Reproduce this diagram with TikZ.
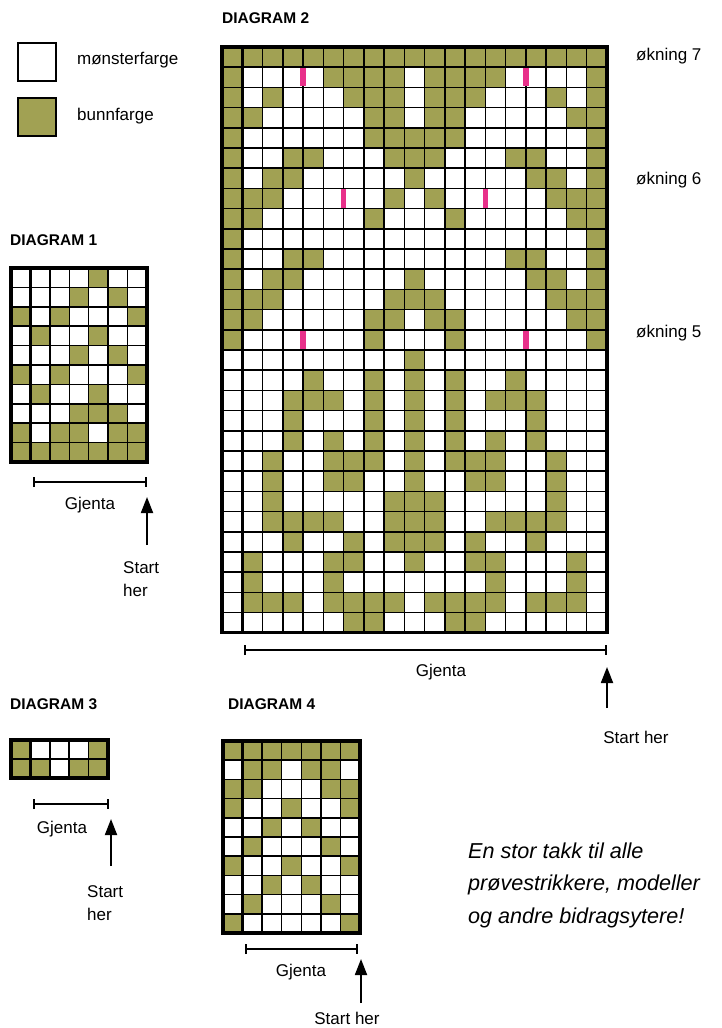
\documentclass[tikz,border=0pt]{standalone}
\usepackage{fontspec}
\setmainfont{Liberation Sans}
\usetikzlibrary{arrows.meta}
\definecolor{knitgreen}{RGB}{161,161,83}
\definecolor{knitpink}{RGB}{232,48,138}
\colorlet{knit0}{white}
\colorlet{knit1}{knitgreen}
\tikzset{
 gridline/.style={line width=1.5pt, draw=black},
 gridframe/.style={line width=3.2pt, draw=black, line join=miter},
 charttitle/.style={font=\fontsize{15.5}{18}\selectfont\bfseries, anchor=west, inner sep=0pt},
 lbl/.style={font=\fontsize{17}{23}\selectfont, inner sep=0pt},
 thanks/.style={font=\fontsize{21.6}{32.5}\selectfont\itshape, inner sep=0pt, align=left, anchor=west},
 repeatbar/.style={line width=1.8pt, {Bar[width=10pt]}-{Bar[width=10pt]}},
 startarrow/.style={line width=1.8pt, -{Triangle[length=16pt,width=12pt]}},
 pinkbar/.style={fill=knitpink},
 legendbox/.style={line width=2.5pt, draw=black, minimum size=38pt, inner sep=0pt},
}
% x0, y0, cell width, cell height, ncols, nrows, rows
\newcommand\knitgrid[7]{%
  \foreach \rowdata [count=\rr from 0] in {#7} {%
    \foreach \v [count=\cc from 0] in \rowdata {%
      \fill[fill=knit\v] ({#1+\cc*#3},{#2+\rr*#4}) rectangle ++(#3,#4);
    }%
  }%
  \foreach \i in {0,...,#5} {\draw[gridline] ({#1+\i*#3},#2) -- ({#1+\i*#3},{#2+#6*#4});}%
  \foreach \j in {0,...,#6} {\draw[gridline] (#1,{#2+\j*#4}) -- ({#1+#5*#3},{#2+\j*#4});}%
  \draw[gridframe] ({#1+#3},#2) -- ({#1+#3},{#2+#6*#4});
  \draw[gridframe] (#1,#2) rectangle ({#1+#5*#3},{#2+#6*#4});
}
\begin{document}
\begin{tikzpicture}[x=1pt,y=-1pt]
\useasboundingbox (0,0) rectangle (722,1028);

% legend
\node[legendbox, fill=white] (lgw) at (37,62) {};
\node[legendbox, fill=knitgreen] (lgg) at (37,117) {};
\node[lbl, anchor=west] (lgwt) at (77,60) {mønsterfarge};
\node[lbl, anchor=west] (lggt) at (77,116) {bunnfarge};

% titles
\node[charttitle] (t2) at (222,18) {DIAGRAM 2};
\node[charttitle] (t1) at (10,240) {DIAGRAM 1};
\node[charttitle] (t3) at (10,704) {DIAGRAM 3};
\node[charttitle] (t4) at (228,704) {DIAGRAM 4};

% DIAGRAM 2
\knitgrid{222}{47}{20.26}{20.2}{19}{29}{
{1,1,1,1,1,1,1,1,1,1,1,1,1,1,1,1,1,1,1},
{1,0,0,0,0,1,1,1,1,0,1,1,1,1,0,0,0,0,1},
{1,0,1,0,0,0,1,1,1,0,1,1,1,0,0,0,1,0,1},
{1,1,0,0,0,0,0,1,1,0,1,1,0,0,0,0,0,1,1},
{1,0,0,0,0,0,0,1,1,1,1,1,0,0,0,0,0,0,1},
{1,0,0,1,1,0,0,0,1,1,1,0,0,0,1,1,0,0,1},
{1,0,1,1,0,0,0,0,0,1,0,0,0,0,0,1,1,0,1},
{1,1,1,0,0,0,0,0,1,0,1,0,0,0,0,0,1,1,1},
{1,1,0,0,0,0,0,1,0,0,0,1,0,0,0,0,0,1,1},
{1,0,0,0,0,0,0,0,0,0,0,0,0,0,0,0,0,0,1},
{1,0,0,1,1,0,0,0,0,0,0,0,0,0,1,1,0,0,1},
{1,0,1,1,0,0,0,0,0,1,0,0,0,0,0,1,1,0,1},
{1,1,1,0,0,0,0,0,1,1,1,0,0,0,0,0,1,1,1},
{1,1,0,0,0,0,0,1,1,0,1,1,0,0,0,0,0,1,1},
{1,0,0,0,0,0,0,1,0,0,0,1,0,0,0,0,0,0,1},
{0,0,0,0,0,0,0,0,0,1,0,0,0,0,0,0,0,0,0},
{0,0,0,0,1,0,0,1,0,1,0,1,0,0,1,0,0,0,0},
{0,0,0,1,1,1,0,1,0,1,0,1,0,1,1,1,0,0,0},
{0,0,0,1,0,0,0,1,0,1,0,1,0,0,0,1,0,0,0},
{0,0,0,1,0,1,0,1,0,1,0,1,0,1,0,1,0,0,0},
{0,0,1,0,0,1,1,1,0,1,0,1,1,1,0,0,1,0,0},
{0,0,1,0,0,1,1,0,0,1,0,0,1,1,0,0,1,0,0},
{0,0,1,0,0,0,0,0,1,1,1,0,0,0,0,0,1,0,0},
{0,0,1,1,1,1,0,0,1,1,1,0,0,1,1,1,1,0,0},
{0,0,0,1,0,0,1,0,1,1,1,0,1,0,0,1,0,0,0},
{0,1,0,0,0,1,1,0,0,1,0,0,1,1,0,0,0,1,0},
{0,1,0,0,0,1,0,0,0,0,0,0,0,1,0,0,0,1,0},
{0,1,1,1,0,1,1,1,1,0,1,1,1,1,0,1,1,1,0},
{0,0,0,0,0,0,1,1,0,0,0,1,1,0,0,0,0,0,0}}
% increase marks (boundary/row)
\foreach \b/\r in {4/1,15/1,6/7,13/7,4/14,15/14} {
  \fill[pinkbar] ({222+\b*20.26-2.8},{47+\r*20.2+1}) rectangle ++(5.6,18.2);
}
\node[lbl, anchor=west] (ok7) at (636,56) {økning 7};
\node[lbl, anchor=west] (ok6) at (636,180) {økning 6};
\node[lbl, anchor=west] (ok5) at (636,333) {økning 5};

\coordinate (b2l) at (244,650);
\coordinate (b2r) at (607,650);
\draw[repeatbar] (b2l) -- (b2r);
\node[lbl] (g2) at (441,672) {Gjenta};
\coordinate (a2s) at (607,708);
\coordinate (a2e) at (607,667);
\draw[startarrow] (a2s) -- (a2e);
\node[lbl] (s2) at (636,737) {Start her};

% DIAGRAM 1
\knitgrid{11}{268}{19.43}{19.4}{7}{10}{
{0,0,0,0,1,0,0},
{0,0,0,1,0,1,0},
{1,0,1,0,0,0,1},
{0,1,0,0,1,0,0},
{0,0,0,1,0,1,0},
{1,0,1,0,0,0,1},
{0,1,0,0,1,0,0},
{0,0,0,1,1,1,0},
{1,0,1,1,0,1,1},
{1,1,1,1,1,1,1}}
\coordinate (b1l) at (33,482);
\coordinate (b1r) at (147,482);
\draw[repeatbar] (b1l) -- (b1r);
\node[lbl] (g1) at (90,505) {Gjenta};
\coordinate (a1s) at (147,545);
\coordinate (a1e) at (147,497);
\draw[startarrow] (a1s) -- (a1e);
\node[lbl, align=left, anchor=west] (s1) at (123,579) {Start\\her};

% DIAGRAM 3
\knitgrid{11}{740}{19.4}{19}{5}{2}{
{1,0,0,0,1},
{1,1,0,1,1}}
\coordinate (b3l) at (33,804);
\coordinate (b3r) at (109,804);
\draw[repeatbar] (b3l) -- (b3r);
\node[lbl] (g3) at (62,829) {Gjenta};
\coordinate (a3s) at (111,866);
\coordinate (a3e) at (111,819);
\draw[startarrow] (a3s) -- (a3e);
\node[lbl, align=left, anchor=west] (s3) at (87,903) {Start\\her};

% DIAGRAM 4
\knitgrid{223}{741}{19.57}{19.2}{7}{10}{
{1,1,1,1,1,1,1},
{0,1,1,0,1,1,0},
{1,1,0,0,0,1,1},
{1,0,0,1,0,0,1},
{0,0,1,0,1,0,0},
{0,1,0,0,0,1,0},
{1,0,0,1,0,0,1},
{0,0,1,0,1,0,0},
{0,1,0,0,0,1,0},
{1,0,0,0,0,0,1}}
\coordinate (b4l) at (245,949);
\coordinate (b4r) at (358,949);
\draw[repeatbar] (b4l) -- (b4r);
\node[lbl] (g4) at (301,972) {Gjenta};
\coordinate (a4s) at (361,1003);
\coordinate (a4e) at (361,959);
\draw[startarrow] (a4s) -- (a4e);
\node[lbl] (s4) at (347,1018) {Start her};

% thanks
\node[thanks] (thx) at (468,885) {En stor takk til alle\\prøvestrikkere, modeller\\og andre bidragsytere!};
\end{tikzpicture}
\end{document}
